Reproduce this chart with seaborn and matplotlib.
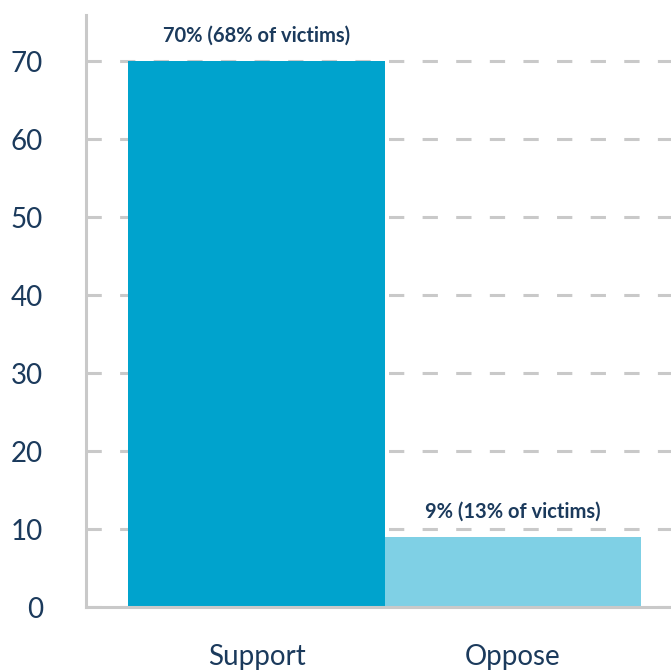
import matplotlib
matplotlib.use("Agg")
import matplotlib.pyplot as plt
import seaborn as sns
import pandas as pd

categories = ["Support", "Oppose"]
values = [70, 9]
bar_labels = ["70% (68% of victims)", "9% (13% of victims)"]
colors = ["#00a3cd", "#7fd0e5"]
y_ticks = [0, 10, 20, 30, 40, 50, 60, 70]

sns.set_theme(style="white")
plt.rcParams["font.family"] = ["Lato", "DejaVu Sans"]

navy = "#1b3a5c"
grey = "#c9c9c9"

df = pd.DataFrame({"category": categories, "value": values})

fig = plt.figure(figsize=(6.71, 6.70), dpi=100)
ax = fig.add_axes([86 / 671, 1 - 607 / 670, 1 - 86 / 671, (607 - 15) / 670])

sns.barplot(data=df, x="category", y="value", hue="category",
            palette=colors, width=1.0, saturation=1, legend=False, ax=ax,
            zorder=2, linewidth=0, edgecolor="none")

ax.set_xlim(-0.665, 1.616)
ax.set_ylim(0, 75.9)
ax.set_yticks(y_ticks)
ax.yaxis.grid(True, color=grey, linewidth=2.2, linestyle=(0, (5, 6)), zorder=0)
ax.xaxis.grid(False)
ax.set_axisbelow(True)

for s in ["top", "right"]:
    ax.spines[s].set_visible(False)
for s in ["left", "bottom"]:
    ax.spines[s].set_color(grey)
    ax.spines[s].set_linewidth(2.2)
    ax.spines[s].set_zorder(3)

ax.tick_params(axis="y", length=0, pad=31, labelsize=20, labelcolor=navy)
ax.tick_params(axis="x", length=0, pad=27, labelsize=20, labelcolor=navy)
ax.set_xlabel("")
ax.set_ylabel("")

for i, (v, t) in enumerate(zip(values, bar_labels)):
    ax.annotate(t, xy=(i, v), xytext=(0, 11), textcoords="offset points",
                ha="center", va="bottom", fontsize=14.5, fontweight="bold", color=navy)

fig.savefig("out.png", dpi=100)
